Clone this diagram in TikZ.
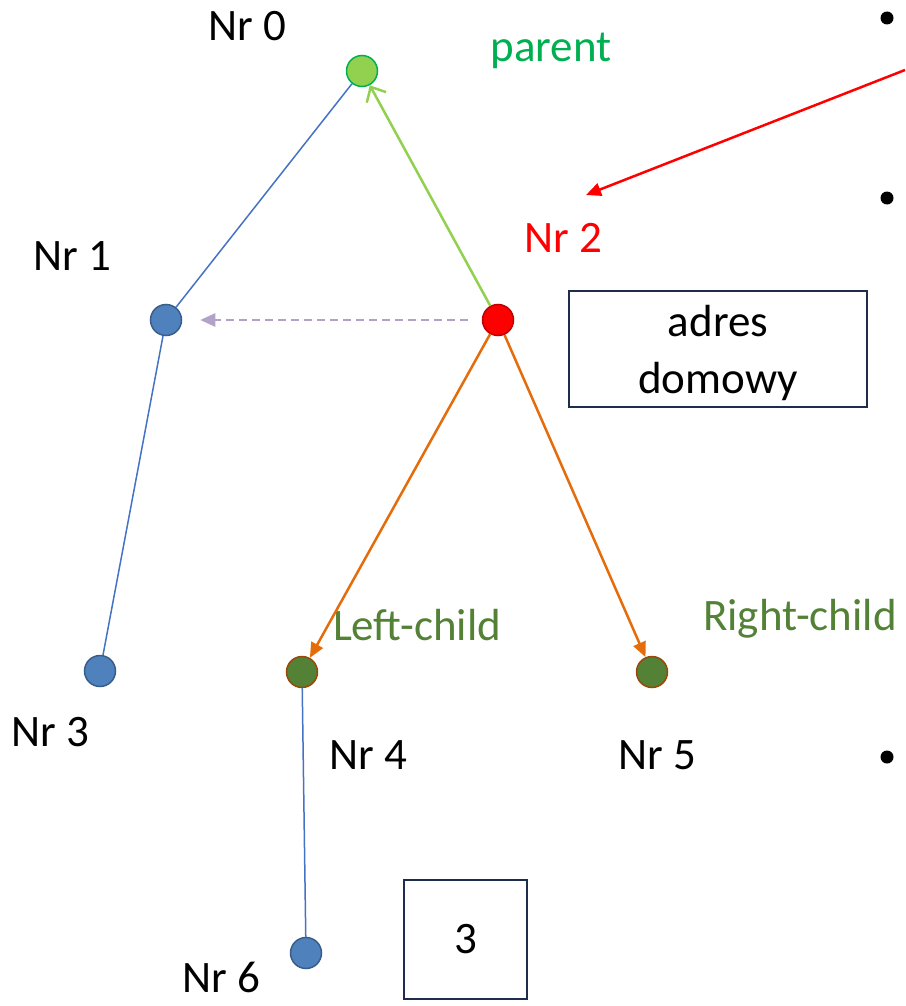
\documentclass[tikz,border=0pt]{standalone}
\usepackage{fontspec}
\setmainfont{Carlito}
\usetikzlibrary{arrows.meta}

\definecolor{nodeblue}{HTML}{4F81BD}
\definecolor{nodeblueline}{HTML}{385D8A}
\definecolor{nodelime}{HTML}{92D050}
\definecolor{nodegreen}{HTML}{00B050}
\definecolor{nodedark}{HTML}{538135}
\definecolor{nodebrown}{HTML}{984807}
\definecolor{nodered}{HTML}{FF0000}
\definecolor{noderedline}{HTML}{C00000}
\definecolor{linkblue}{HTML}{4472C4}
\definecolor{linkorange}{HTML}{E46C0A}
\definecolor{linklav}{HTML}{B3A2C7}
\definecolor{boxline}{HTML}{1F2D4D}

\begin{document}
\begin{tikzpicture}[
    x=1pt, y=-1pt,
    font=\fontsize{45}{57}\selectfont,
    dot/.style={
        circle, minimum size=31pt, inner sep=0pt, line width=1.5pt,
      },
    bluedot/.style={dot, draw=nodeblueline, fill=nodeblue},
    lbl/.style={anchor=base, inner sep=2pt},
    box/.style={
        rectangle, draw=boxline, line width=1.5pt,
        align=center, inner sep=0pt,
      },
    link/.style={linkblue, line width=1.5pt},
    arr/.style={
        linkorange, line width=2.5pt,
        -{Triangle[length=15pt, width=13pt]},
      }
  ]
  \useasboundingbox (0,0) rectangle (905,1006);

  % tree nodes
  \node[dot, draw=nodegreen, fill=nodelime] (n0) at (362,71) {};
  \node[dot, draw=noderedline, fill=nodered] (n2) at (498,320) {};
  \foreach \i/\x/\y in {1/166/320, 3/100/671, 6/306/953}{
      \node[bluedot] (n\i) at (\x,\y) {};
    }
  \foreach \i/\x in {4/302, 5/652}{
      \node[dot, draw=nodebrown, fill=nodedark] (n\i) at (\x,672) {};
    }

  % labels
  \foreach \i/\x/\y in {
      0/247/41, 1/72/270, 3/50/746,
      4/368/769, 5/657/769, 6/221/992
    }{
      \node[lbl] (l\i) at (\x,\y) {Nr \i};
    }
  \node[lbl, nodered] (l2) at (563,252) {Nr 2};
  \node[lbl, nodegreen] (par) at (551,62) {parent};
  \node[lbl, nodedark] (lc) at (417,640) {Left-child};
  \node[lbl, nodedark] (rc) at (800,630) {Right-child};

  % boxes
  \node[box, minimum width=298pt, minimum height=116pt,
    text depth=0pt] (adr) at (718,349)
    {adres\\domowy};
  \node[box, minimum width=123pt, minimum height=119pt] (num) at (465.5,939.5)
    {3};

  % bullets
  \foreach \i/\y in {1/18, 2/198, 3/757}{
      \node[circle, fill=black, minimum size=13pt, inner sep=0pt] (b\i)
        at (887,\y) {};
    }

  % links
  \draw[link] (n0) -- (n1);
  \draw[link] (n1) -- (n3);
  \draw[link] (n4) -- (n6);
  \draw[nodelime, line width=2.5pt,
    -{Straight Barb[length=12pt, width=22pt]}] (n2) -- (n0);
  \draw[arr] (n2) -- (n4);
  \draw[arr] (n2) -- (n5);
  \draw[arr, linklav, dashed, dash pattern=on 8pt off 5pt,
    shorten <=14pt, shorten >=18pt] (n2) -- (n1);

  \coordinate (rs) at (905,70);
  \coordinate (re) at (586,195);
  \draw[arr, nodered] (rs) -- (re);
\end{tikzpicture}
\end{document}
